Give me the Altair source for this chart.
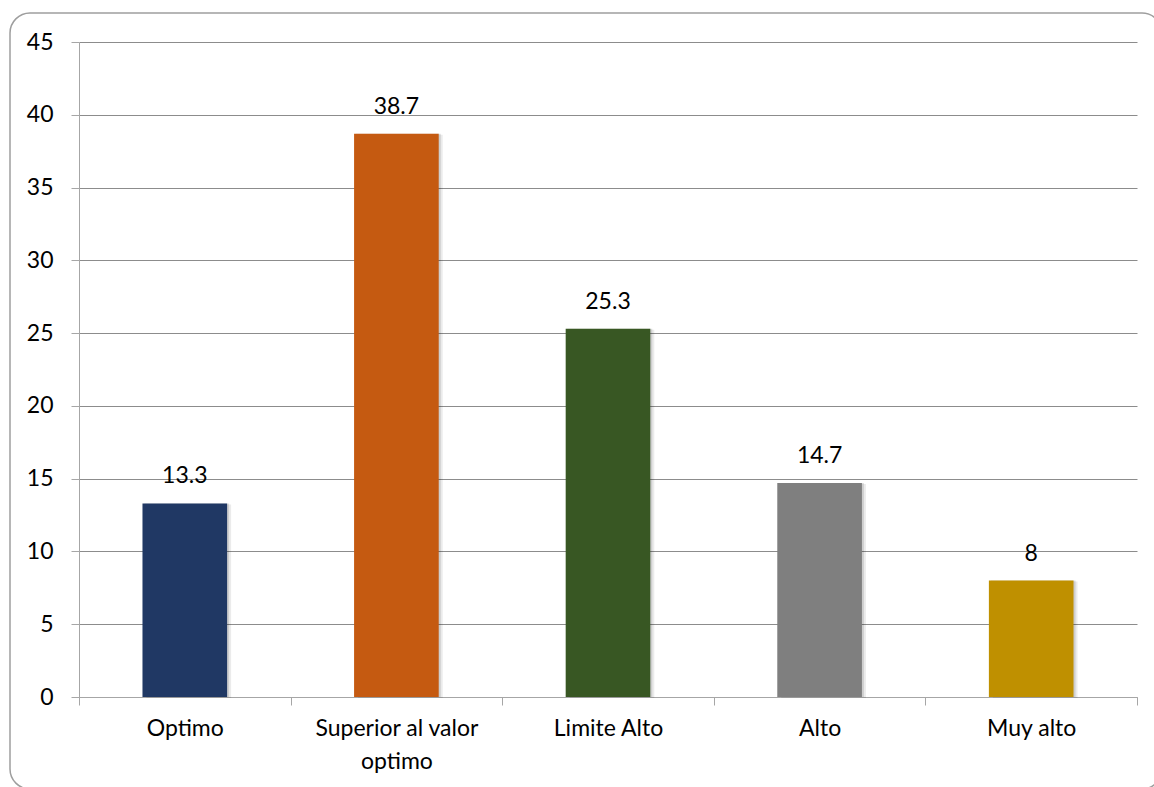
import altair as alt
import pandas as pd

# Categories, percentages and bar colours
categories = ["Optimo", "Superior al valor|optimo", "Limite Alto", "Alto", "Muy alto"]
values = [13.3, 38.7, 25.3, 14.7, 8]
colors = ["#203864", "#C55A11", "#385723", "#7F7F7F", "#BF9000"]

df = pd.DataFrame({"cat": categories, "val": values, "color": colors})

FONT = "Lato"
FS = 23
W, H = 1058, 655

x_enc = alt.X(
    "cat:N",
    sort=categories,
    scale=alt.Scale(paddingInner=0, paddingOuter=0),
    axis=alt.Axis(
        title=None,
        labelAngle=0,
        labelExpr="split(datum.label, '|')",
        labelFont=FONT,
        labelFontSize=FS,
        labelColor="#000000",
        labelPadding=12,
        labelLineHeight=33,
        labelBaseline="top",
        tickBand="extent",
        tickSize=8,
        tickColor="#A6A6A6",
        domainColor="#A6A6A6",
        grid=False,
    ),
)

y_scale = alt.Scale(domain=[0, 45], nice=False)
y_enc = alt.Y(
    "val:Q",
    scale=y_scale,
    axis=alt.Axis(
        title=None,
        values=list(range(0, 46, 5)),
        labelFont=FONT,
        labelFontSize=FS,
        labelColor="#000000",
        labelPadding=18,
        tickSize=8,
        tickColor="#A6A6A6",
        domainColor="#A6A6A6",
        grid=True,
        gridColor="#8C8C8C",
        gridWidth=1,
    ),
)

base = alt.Chart(df)

# Rounded frame around the whole chart
frame = alt.Chart(alt.Data(values=[{}])).mark_rect(
    fill=None, stroke="#9E9E9E", strokeWidth=1.5, cornerRadius=20, clip=False
).encode(
    x=alt.value(-69), x2=alt.value(1083),
    y=alt.value(-29), y2=alt.value(747),
)

# Soft shadow on the right of each bar
shadow1 = base.mark_bar(
    width=alt.RelativeBandSize(0.4), color="#000000", opacity=0.08, xOffset=4, yOffset=1
).encode(x=x_enc, y=y_enc)
shadow2 = base.mark_bar(
    width=alt.RelativeBandSize(0.4), color="#000000", opacity=0.12, xOffset=2
).encode(x=x_enc, y=y_enc)

bars = base.mark_bar(width=alt.RelativeBandSize(0.4)).encode(
    x=x_enc,
    y=y_enc,
    color=alt.Color("color:N", scale=None),
)

labels = base.mark_text(
    font=FONT, fontSize=FS, color="#000000", dy=-27, baseline="middle"
).encode(
    x=x_enc,
    y=y_enc,
    text=alt.Text("val:Q"),
)

chart = (
    alt.layer(frame, shadow1, shadow2, bars, labels)
    .properties(
        width=W,
        height=H,
        autosize=alt.AutoSizeParams(type="none"),
        padding={"left": 79, "top": 42, "right": 17, "bottom": 90},
        background="#FFFFFF",
    )
    .configure_view(stroke=None)
)

chart.save("out.html", embed_options={"renderer": "svg", "actions": False})
